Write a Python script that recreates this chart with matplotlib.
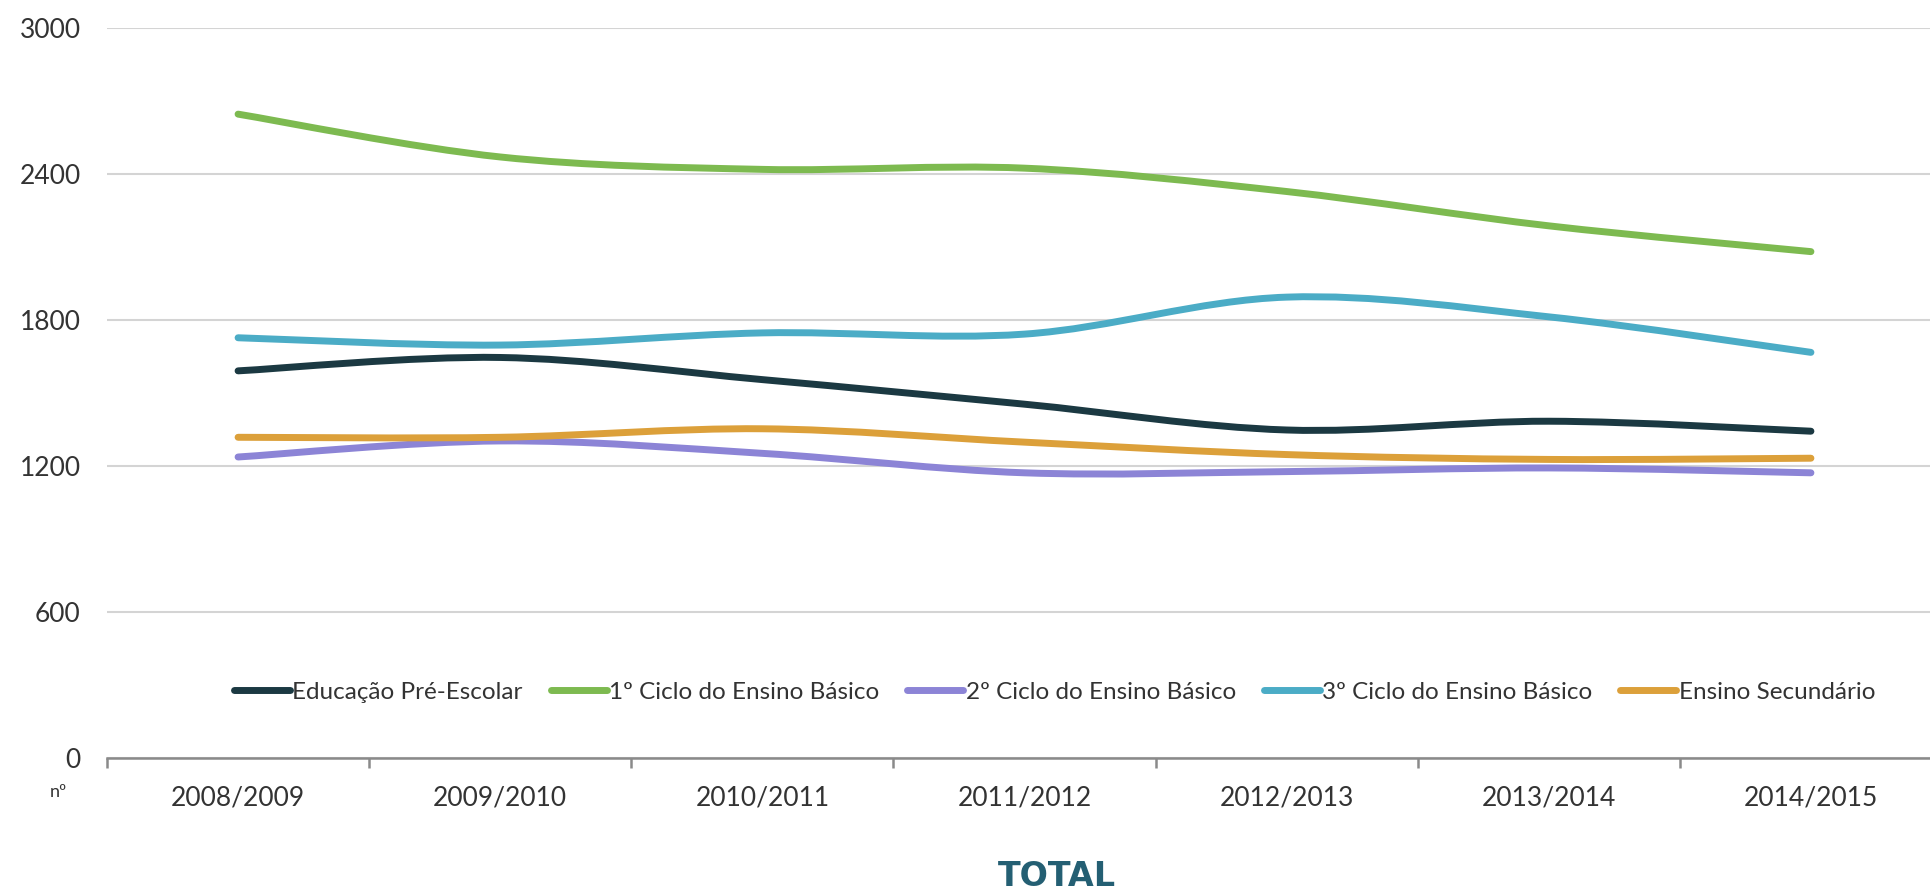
import numpy as np
import matplotlib
matplotlib.use("Agg")
import matplotlib.pyplot as plt
from matplotlib.path import Path
from matplotlib.patches import PathPatch
from matplotlib.lines import Line2D

plt.rcParams['font.family'] = ['Lato', 'DejaVu Sans']

# data
anos = ['2008/2009', '2009/2010', '2010/2011', '2011/2012', '2012/2013', '2013/2014', '2014/2015']
pre_escolar = [1591, 1646, 1555, 1454, 1348, 1384, 1343]
ciclo1 = [2646, 2470, 2419, 2424, 2328, 2187, 2081]
ciclo2 = [1237, 1303, 1252, 1172, 1177, 1192, 1172]
ciclo3 = [1727, 1697, 1747, 1742, 1894, 1813, 1667]
secundario = [1318, 1318, 1353, 1298, 1247, 1227, 1232]

series = [
    ('Educação Pré-Escolar', pre_escolar, '#1b3942'),
    ('1º Ciclo do Ensino Básico', ciclo1, '#7dba50'),
    ('2º Ciclo do Ensino Básico', ciclo2, '#8c84d6'),
    ('3º Ciclo do Ensino Básico', ciclo3, '#4bacc6'),
    ('Ensino Secundário', secundario, '#dca03a'),
]


def smooth_path(xs, ys):
    # Excel-like smoothed line: catmull-rom segments as cubic beziers
    pts = np.column_stack([xs, ys]).astype(float)
    ext = np.vstack([pts[0], pts, pts[-1]])
    verts = [pts[0]]
    codes = [Path.MOVETO]
    for i in range(1, len(ext) - 2):
        p0, p1, p2, p3 = ext[i - 1], ext[i], ext[i + 1], ext[i + 2]
        c1 = p1 + (p2 - p0) / 6.0
        c2 = p2 - (p3 - p1) / 6.0
        verts += [c1, c2, p2]
        codes += [Path.CURVE4] * 3
    return Path(verts, codes)


fig = plt.figure(figsize=(19.31, 8.94), dpi=100)
ax = fig.add_axes([107 / 1931, 1 - 758 / 894, (1942 - 107) / 1931, (758 - 28) / 894])

x = np.arange(len(anos))
handles = []
for nome, vals, cor in series:
    p = PathPatch(smooth_path(x, vals), fill=False, edgecolor=cor, lw=5,
                  capstyle='round', joinstyle='round', zorder=3)
    ax.add_patch(p)
    handles.append(Line2D([], [], color=cor, lw=5, solid_capstyle='round', label=nome))

ax.set_xlim(-0.5, len(anos) - 0.5)
ax.set_ylim(0, 3000)
ax.set_yticks([0, 600, 1200, 1800, 2400, 3000])
ax.set_xticks(x)
ax.set_xticklabels(anos)
ax.set_xticks(np.arange(-0.5, len(anos), 1), minor=True)

ax.grid(axis='y', color='#d4d4d4', lw=1.5, zorder=0)
for s in ['top', 'right', 'left']:
    ax.spines[s].set_visible(False)
ax.spines['bottom'].set_color('#8a8a8a')
ax.spines['bottom'].set_linewidth(1.8)
ax.spines['bottom'].set_zorder(4)

ax.tick_params(axis='y', length=0, pad=19, labelsize=19, labelcolor='#333333')
ax.tick_params(axis='x', which='major', length=0, pad=20, labelsize=19, labelcolor='#333333')
ax.tick_params(axis='x', which='minor', length=7, width=1.8, color='#8a8a8a', direction='out')

fig.legend(handles=handles, loc='center left', bbox_to_anchor=(234 / 1931, 1 - 692 / 894),
           ncol=5, frameon=False, fontsize=17.5, handlelength=2.3, handletextpad=0.1,
           columnspacing=1.15, borderpad=0, borderaxespad=0, labelcolor='#333333')

fig.text(50 / 1931, 1 - 792 / 894, 'nº', fontsize=13, color='#333333', ha='left', va='center')
fig.text(1057 / 1931, 1 - 877 / 894, 'TOTAL', fontsize=24, fontweight='bold',
         family='DejaVu Sans', color='#245f73', ha='center', va='center')

fig.savefig('out.png', dpi=100)
